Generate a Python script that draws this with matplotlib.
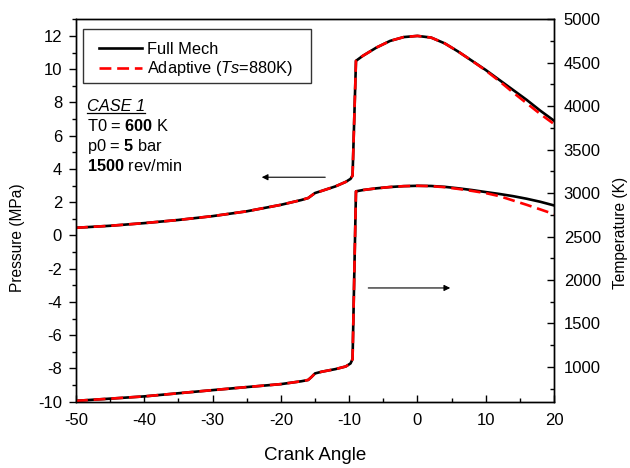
import numpy as np
import matplotlib
matplotlib.use('Agg')
import matplotlib.pyplot as plt
from matplotlib.lines import Line2D
from matplotlib.patches import Rectangle

# Pressure (MPa) vs crank angle
crank = [-50, -45, -40, -35, -30, -25, -20, -17, -16, -15.5, -15, -14, -12,
         -10.5, -9.8, -9.5, -9.0, -8, -6, -4, -2, 0, 2, 4, 6, 8, 10, 12, 14,
         16, 18, 20]
p_full = [0.46, 0.58, 0.74, 0.93, 1.16, 1.45, 1.84, 2.13, 2.25, 2.40, 2.55,
          2.68, 2.95, 3.22, 3.40, 3.60, 10.5, 10.8, 11.3, 11.7, 11.93, 12.0,
          11.9, 11.55, 11.05, 10.5, 9.95, 9.35, 8.75, 8.15, 7.5, 6.9]
p_adapt = [0.46, 0.58, 0.74, 0.93, 1.16, 1.45, 1.84, 2.13, 2.25, 2.40, 2.55,
           2.68, 2.95, 3.22, 3.40, 3.60, 10.5, 10.8, 11.3, 11.7, 11.93, 12.0,
           11.9, 11.55, 11.05, 10.5, 9.92, 9.28, 8.6, 7.95, 7.3, 6.7]

# Temperature (K) vs crank angle
t_full = [610, 635, 661, 697, 733, 768, 802, 835, 850, 885, 925, 945, 975,
          1005, 1040, 1090, 3020, 3035, 3055, 3070, 3080, 3084, 3082, 3072,
          3055, 3035, 3012, 2990, 2965, 2935, 2900, 2858]
t_adapt = [610, 635, 661, 697, 733, 768, 802, 835, 850, 885, 925, 945, 975,
           1005, 1040, 1090, 3020, 3035, 3055, 3070, 3080, 3084, 3080, 3068,
           3048, 3025, 3000, 2965, 2915, 2865, 2812, 2758]

plt.rcParams['font.family'] = 'Liberation Sans'
plt.rcParams['font.size'] = 11.8
plt.rcParams['axes.unicode_minus'] = False
plt.rcParams['mathtext.fontset'] = 'custom'
plt.rcParams['mathtext.rm'] = 'Liberation Sans'
plt.rcParams['mathtext.it'] = 'Liberation Sans:italic'
plt.rcParams['mathtext.bf'] = 'Liberation Sans:bold'

fig = plt.figure(figsize=(6.3, 4.68), dpi=100)
ax = fig.add_axes([0.1206, 0.1417, 0.7588, 0.8171])
ax2 = ax.twinx()

dash = (0, (4.5, 2.2))
l1, = ax.plot(crank, p_full, color='black', lw=1.9, label='Full Mech')
l2, = ax.plot(crank, p_adapt, color='red', lw=1.9, linestyle=dash,
              label='Adaptive ($\\mathit{Ts}$=880K)')
ax2.plot(crank, t_full, color='black', lw=1.9)
ax2.plot(crank, t_adapt, color='red', lw=1.9, linestyle=dash)

ax.set_xlim(-50, 20)
ax.set_ylim(-10, 13)
ax2.set_ylim(600, 5000)

ax.set_xticks(np.arange(-50, 21, 10))
ax.set_xticks(np.arange(-50, 21, 5), minor=True)
ax.set_yticks(np.arange(-10, 13, 2))
ax.set_yticks(np.arange(-10, 14, 1), minor=True)
ax2.set_yticks(np.arange(1000, 5001, 500))
ax2.set_yticks(np.arange(750, 5001, 250), minor=True)

ax.tick_params(axis='y', which='both', direction='out', width=1, labelsize=12)
ax.tick_params(axis='y', which='major', length=5, pad=5)
ax.tick_params(axis='y', which='minor', length=3)
ax.tick_params(axis='x', which='both', direction='in', width=1, labelsize=12)
ax.tick_params(axis='x', which='major', length=5, pad=8)
ax.tick_params(axis='x', which='minor', length=3)
ax2.tick_params(axis='y', which='both', direction='in', width=1, labelsize=12)
ax2.tick_params(axis='y', which='major', length=5, pad=7)
ax2.tick_params(axis='y', which='minor', length=3)
for a in (ax, ax2):
    for s in a.spines.values():
        s.set_linewidth(1.0)

ax.set_xlabel('Crank Angle', fontsize=13.5)
ax.set_ylabel('Pressure (MPa)', fontsize=11.2)
ax2.set_ylabel('Temperature (K)', fontsize=11.2)
ax.xaxis.set_label_coords(0.5, -0.118)
ax.yaxis.set_label_coords(-0.107, 0.43)
ax2.yaxis.set_label_coords(1.123, 0.44)

# legend frame drawn separately so its box matches the reference
ax.add_patch(Rectangle((0.0153, 0.834), 0.4757, 0.1404, transform=ax.transAxes,
                       facecolor='white', edgecolor='#333333', lw=1.0,
                       zorder=4))
leg = ax.legend(handles=[l1, l2], loc='upper left',
                bbox_to_anchor=(0.048, 0.941), frameon=False,
                borderaxespad=0, borderpad=0, handlelength=2.6,
                handletextpad=0.35, labelspacing=0.15, fontsize=11.8)
leg.set_zorder(5)

# annotation text block
case = ax.text(0.023, 0.773, 'CASE 1', transform=ax.transAxes,
               style='italic', va='center', ha='left')
ax.text(0.023, 0.721, 'T0 = $\\mathbf{600}$ K', transform=ax.transAxes,
        va='center', ha='left')
ax.text(0.023, 0.667, 'p0 = $\\mathbf{5}$ bar', transform=ax.transAxes,
        va='center', ha='left')
ax.text(0.023, 0.616, '$\\mathbf{1500}$ rev/min', transform=ax.transAxes,
        va='center', ha='left')

# arrows pointing to each axis
ax.annotate('', xy=(-22.8, 3.5), xytext=(-13.5, 3.5),
            arrowprops=dict(arrowstyle='-|>', color='black', lw=0.8,
                            mutation_scale=9, shrinkA=0, shrinkB=0))
ax.annotate('', xy=(4.8, -3.16), xytext=(-7.2, -3.16),
            arrowprops=dict(arrowstyle='-|>', color='black', lw=0.8,
                            mutation_scale=9, shrinkA=0, shrinkB=0))

# underline for CASE 1
fig.canvas.draw()
bb = case.get_window_extent(fig.canvas.get_renderer())
fig.add_artist(Line2D([bb.x0, bb.x1], [bb.y0 + 1, bb.y0 + 1],
                      transform=None, color='black', lw=0.9))

fig.savefig('out.png', dpi=100)
